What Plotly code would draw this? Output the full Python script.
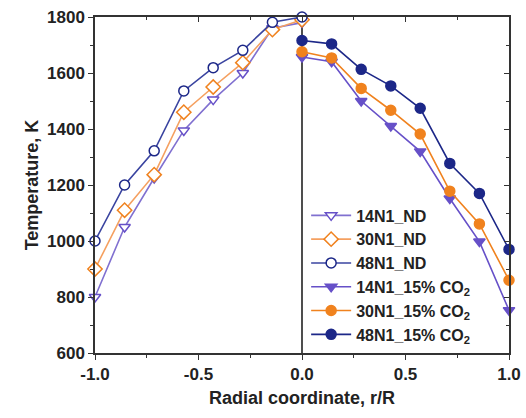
import plotly.graph_objects as go

x_left = [-1.0, -0.857, -0.714, -0.571, -0.429, -0.286, -0.143, 0.0]
x_right = [0.0, 0.143, 0.286, 0.429, 0.571, 0.714, 0.857, 1.0]

nd_14 = [800, 1050, 1225, 1395, 1505, 1600, 1760, 1780]
nd_30 = [900, 1110, 1237, 1460, 1550, 1637, 1755, 1790]
nd_48 = [1000, 1200, 1322, 1536, 1619, 1681, 1781, 1800]

co2_14 = [1657, 1640, 1500, 1411, 1320, 1152, 998, 753]
co2_30 = [1676, 1654, 1545, 1467, 1382, 1178, 1061, 860]
co2_48 = [1716, 1704, 1613, 1554, 1474, 1277, 1170, 970]

names = ["14N1_ND", "30N1_ND", "48N1_ND",
         "14N1_15% CO<sub>2</sub>", "30N1_15% CO<sub>2</sub>", "48N1_15% CO<sub>2</sub>"]

x_tickvals = [-1.0, -0.5, 0.0, 0.5, 1.0]
x_ticktext = ["-1.0", "-0.5", "0.0", "0.5", "1.0"]
y_tickvals = [600, 800, 1000, 1200, 1400, 1600, 1800]

purple = "#6650c8"
orange = "#f0821e"
navy = "#1c2788"
purple_l = "#8070d0"
orange_l = "#f5a060"

fig = go.Figure()

specs = [
    (x_left, nd_14, names[0], purple_l, purple, "triangle-down", True),
    (x_left, nd_30, names[1], orange_l, orange, "diamond", True),
    (x_left, nd_48, names[2], "#3a44a0", navy, "circle", True),
    (x_right, co2_14, names[3], purple, purple, "triangle-down", False),
    (x_right, co2_30, names[4], orange, orange, "circle", False),
    (x_right, co2_48, names[5], navy, navy, "circle", False),
]
for xs, ys, nm, lc, mc, sym, opn in specs:
    fig.add_trace(go.Scatter(
        x=xs, y=ys, name=nm, mode="lines+markers", cliponaxis=False,
        line=dict(color=lc, width=1.6),
        marker=dict(symbol=sym, size=10 if sym != "diamond" else 11,
                    color="white" if opn else mc,
                    line=dict(color=mc, width=1.5)),
    ))

fig.add_shape(type="line", xref="x", yref="paper", x0=0, x1=0, y0=0, y1=1,
              line=dict(color="#222", width=1.6), layer="below")

tickfont = dict(family="Liberation Sans", size=17, color="#222", weight="bold")
titlefont = dict(family="Liberation Sans", size=18, color="#222", weight="bold")
common = dict(showline=True, linecolor="#333", linewidth=1.5, showgrid=False,
              zeroline=False, tickcolor="#333", ticklen=5, tickwidth=1.2,
              automargin=False)

fig.update_layout(
    width=526, height=418,
    margin=dict(l=95, r=17, t=17, b=65),
    paper_bgcolor="white", plot_bgcolor="white",
    font=dict(family="Liberation Sans", color="#222"),
    xaxis=dict(range=[-1, 1], tickvals=x_tickvals, ticktext=x_ticktext,
               ticks="outside", tickfont=tickfont,
               minor=dict(dtick=0.25, ticks="outside", ticklen=3, tickcolor="#333"),
               title=dict(text="Radial coordinate, r/R", font=titlefont, standoff=8),
               **common),
    yaxis=dict(range=[600, 1800], tickvals=y_tickvals, ticks="outside", tickfont=tickfont,
               minor=dict(dtick=100, ticks="outside", ticklen=3, tickcolor="#333"),
               title=dict(text="Temperature, K", font=titlefont, standoff=4),
               **common),
    xaxis2=dict(range=[-1, 1], tickvals=x_tickvals, overlaying="x", side="top",
                ticks="inside", showticklabels=False,
                minor=dict(dtick=0.25, ticks="inside", ticklen=3, tickcolor="#333"),
                **common),
    yaxis2=dict(range=[600, 1800], tickvals=y_tickvals, overlaying="y", side="right",
                ticks="inside", showticklabels=False,
                minor=dict(dtick=100, ticks="inside", ticklen=3, tickcolor="#333"),
                **common),
    legend=dict(x=0.51, y=0.46, xanchor="left", yanchor="top",
                bgcolor="rgba(0,0,0,0)", borderwidth=0,
                font=dict(family="Liberation Sans", size=16, color="#222", weight="bold"),
                itemwidth=40, tracegroupgap=0),
    showlegend=True,
)
fig.add_trace(go.Scatter(x=[None], y=[None], xaxis="x2", yaxis="y2", showlegend=False, hoverinfo="skip"))

fig.write_html("out.html")
